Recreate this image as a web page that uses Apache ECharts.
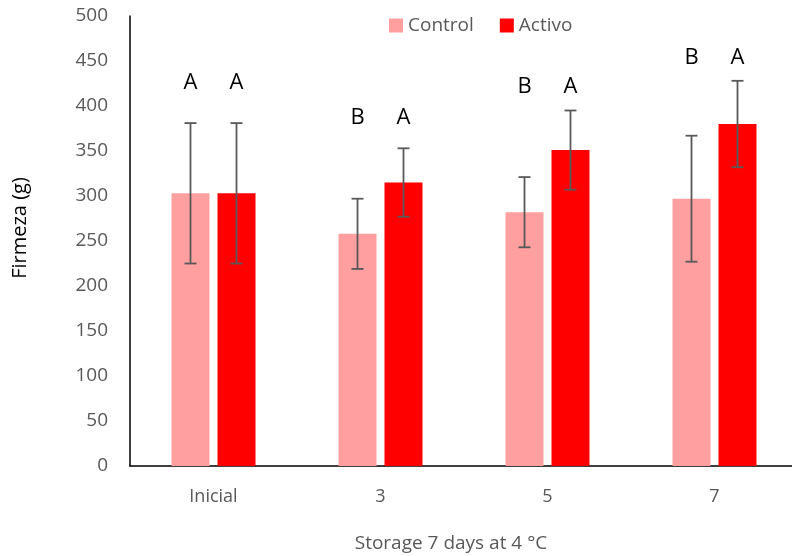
<!DOCTYPE html>
<html><head><meta charset="utf-8">
<script src="https://cdn.jsdelivr.net/npm/echarts@6/dist/echarts.min.js"></script>
<style>html,body{margin:0;padding:0;background:#fff}#c{width:792px;height:556px}</style>
</head><body><div id="c"></div>
<script>
const categories = ['Inicial', '3', '5', '7'];
const controlValues = [303, 258, 282, 297];
const controlErr = [78, 39, 39, 70];
const activoValues = [303, 315, 351, 380];
const activoErr = [78, 38, 44, 48];
const controlLetters = ['A', 'B', 'B', 'B'];
const activoLetters = ['A', 'A', 'A', 'A'];
const letterHeights = [426, 387, 421, 454];
const yTicks = [0, 50, 100, 150, 200, 250, 300, 350, 400, 450, 500];

const FONT = '"Open Sans", Lato, sans-serif';
const BAR_W = 38, GAP = 8;
const offC = -(BAR_W + GAP) / 2, offA = (BAR_W + GAP) / 2;

function errSeries(vals, errs, off) {
  return {
    type: 'custom', silent: true, z: 5,
    data: vals.map((v, i) => [i, v - errs[i], v + errs[i]]),
    renderItem: function (params, api) {
      const lo = api.coord([api.value(0), api.value(1)]);
      const hi = api.coord([api.value(0), api.value(2)]);
      const x = lo[0] + off, cap = 6;
      const st = { stroke: '#595959', lineWidth: 1.8 };
      return { type: 'group', children: [
        { type: 'line', shape: { x1: x, y1: lo[1], x2: x, y2: hi[1] }, style: st },
        { type: 'line', shape: { x1: x - cap, y1: lo[1], x2: x + cap, y2: lo[1] }, style: st },
        { type: 'line', shape: { x1: x - cap, y1: hi[1], x2: x + cap, y2: hi[1] }, style: st }
      ]};
    }
  };
}
function letterSeries(letters, off) {
  return {
    type: 'custom', silent: true, z: 6,
    data: letters.map((l, i) => [i, letterHeights[i], l]),
    renderItem: function (params, api) {
      const p = api.coord([api.value(0), api.value(1)]);
      return { type: 'text', style: { text: letters[params.dataIndex], x: p[0] + off, y: p[1],
        align: 'center', verticalAlign: 'middle', fill: '#000', font: '22px ' + FONT } };
    }
  };
}

const chart = echarts.init(document.getElementById('c'));
chart.setOption({
  animation: false,
  textStyle: { fontFamily: FONT },
  legend: {
    data: ['Control', 'Activo'], top: 11, left: 384, itemWidth: 14, itemHeight: 14, itemGap: 26,
    textStyle: { fontSize: 19, color: '#595959' }, icon: 'rect'
  },
  grid: { left: 130, width: 668, top: 16, bottom: 90, outerBoundsMode: 'none', containLabel: false },
  xAxis: {
    type: 'category', data: categories,
    axisLine: { lineStyle: { color: '#000', width: 1.5 } }, axisTick: { show: false },
    axisLabel: { fontSize: 18, color: '#595959', margin: 22 },
    name: 'Storage 7 days at 4 °C', nameLocation: 'middle', nameGap: 68,
    nameTextStyle: { fontSize: 19, color: '#595959', padding: [0, 26, 0, 0] }
  },
  yAxis: {
    type: 'value', min: 0, max: 500, interval: 50,
    axisLine: { show: true, lineStyle: { color: '#000', width: 1.5 } }, axisTick: { show: false },
    splitLine: { show: false },
    axisLabel: { fontSize: 19, color: '#595959', margin: 22 },
    name: 'Firmeza (g)', nameLocation: 'middle', nameGap: 100,
    nameTextStyle: { fontSize: 20, color: '#000', padding: [0, 0, 0, 26] }
  },
  series: [
    { name: 'Control', type: 'bar', data: controlValues, barWidth: BAR_W, barGap: (GAP / BAR_W * 100) + '%',
      itemStyle: { color: '#FF9F9F' } },
    { name: 'Activo', type: 'bar', data: activoValues, barWidth: BAR_W,
      itemStyle: { color: '#FF0000' } },
    errSeries(controlValues, controlErr, offC),
    errSeries(activoValues, activoErr, offA),
    letterSeries(controlLetters, offC),
    letterSeries(activoLetters, offA)
  ]
});
</script></body></html>
